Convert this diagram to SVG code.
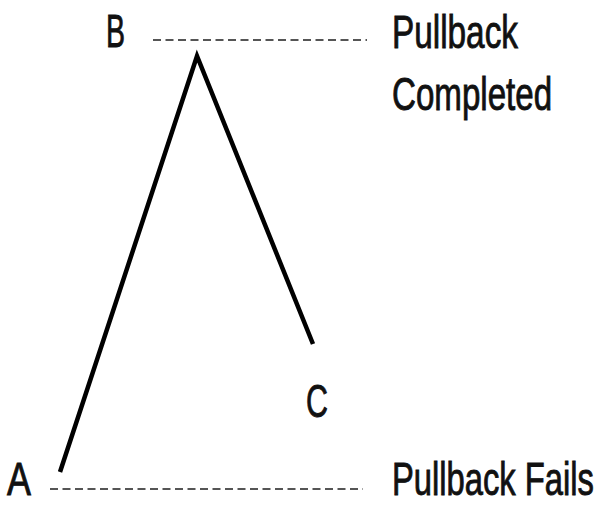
<svg xmlns="http://www.w3.org/2000/svg" width="597" height="505" viewBox="0 0 597 505">
<style>
.lbl{font-family:"Liberation Sans",Arial,sans-serif;font-size:46px;fill:#111;stroke:#111;stroke-width:0.9}
.dash{stroke:#555;stroke-width:2.2;stroke-dasharray:8 4.5;fill:none}
.path{stroke:#000;stroke-width:4.5;fill:none;stroke-linejoin:miter}
</style>
<rect width="597" height="505" fill="#fff"/>
<g id="connectors">
<polyline class="path" points="60,472 197,56 313,344"/>
<line class="dash" x1="153" y1="40" x2="367" y2="40"/>
<line class="dash" x1="50" y1="489" x2="363" y2="489"/>
</g>
<g id="B"><text class="lbl" transform="translate(106,47) scale(0.62,1)">B</text></g>
<g id="A"><text class="lbl" transform="translate(7,495) scale(0.78,1)">A</text></g>
<g id="C"><text class="lbl" transform="translate(306,417) scale(0.66,1)">C</text></g>
<g id="pullback-completed"><text class="lbl" transform="translate(392,48) scale(0.725,1)">Pullback</text><text class="lbl" transform="translate(392,110) scale(0.72,1)">Completed</text></g>
<g id="pullback-fails"><text class="lbl" transform="translate(392,495) scale(0.712,1)">Pullback Fails</text></g>
</svg>
